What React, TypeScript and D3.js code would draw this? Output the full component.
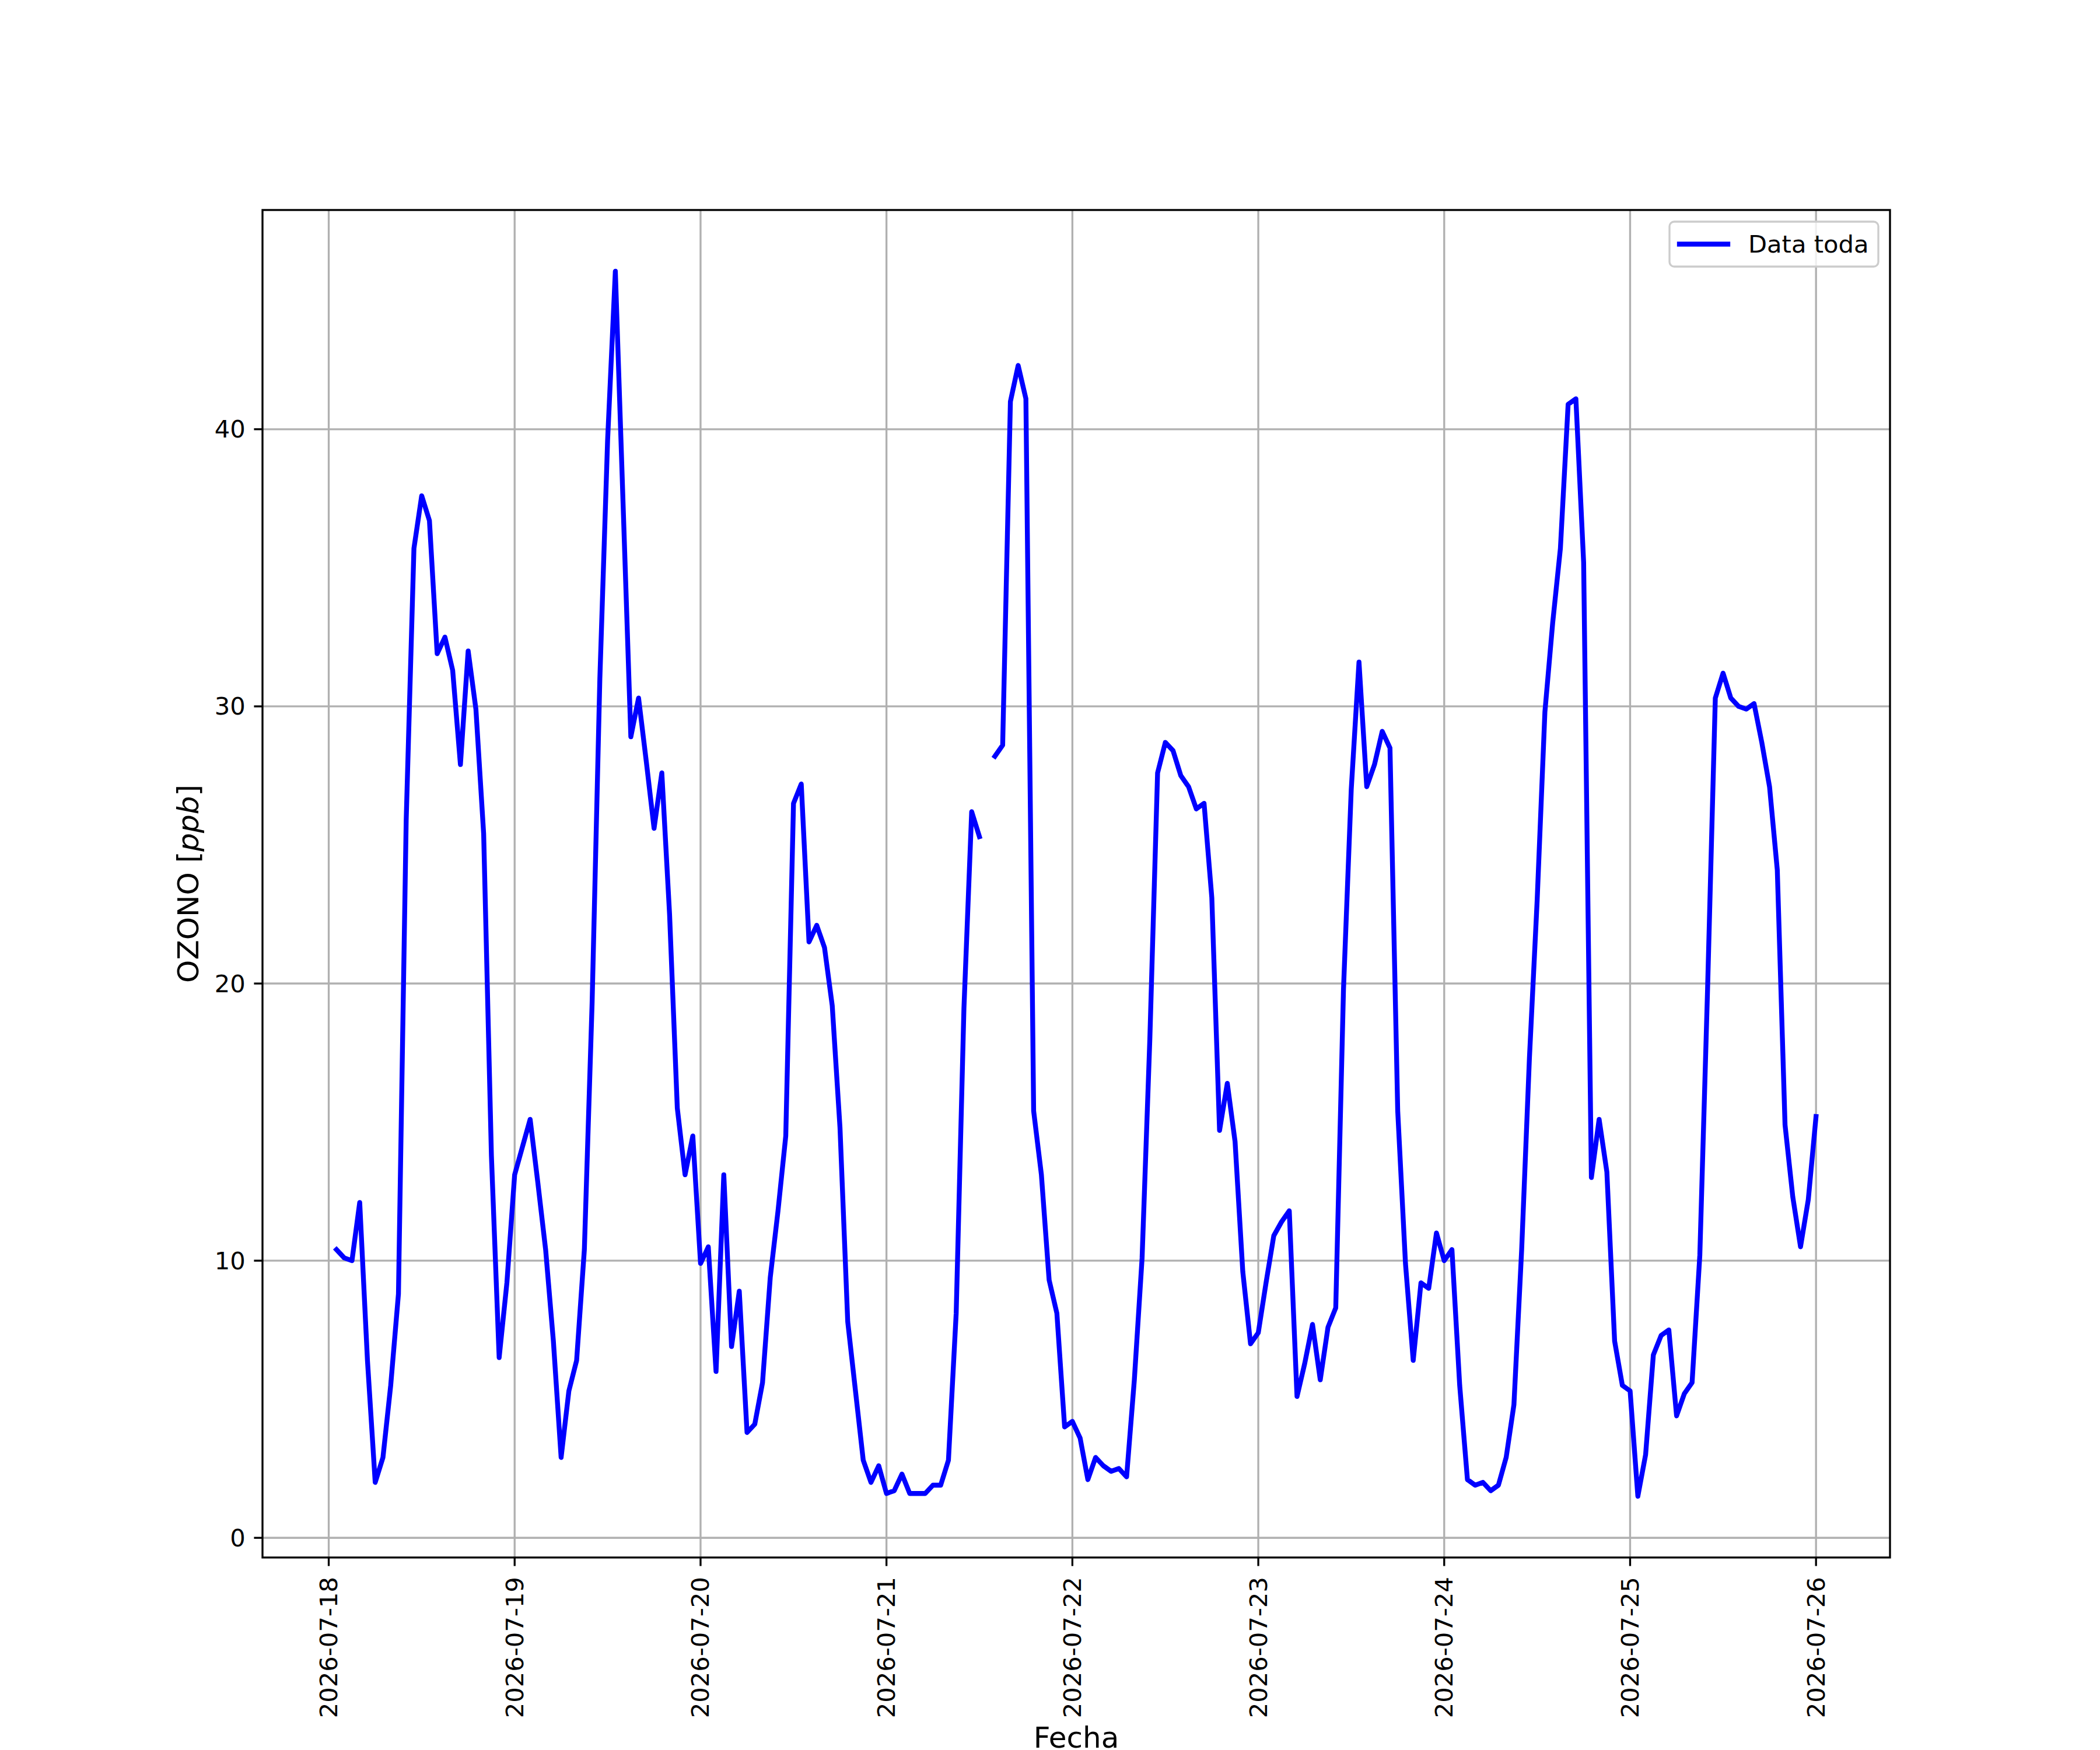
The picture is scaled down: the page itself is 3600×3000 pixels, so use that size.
import React from "react";
import * as d3 from "d3";

// Hourly ozone readings, first reading 2026-07-18 01:00 (UTC), last 2026-07-26 00:00
const START = "2026-07-18T01:00:00Z";
const day18 = [10.4, 10.1, 10.0, 12.1, 6.4, 2.0, 2.9, 5.5, 8.8, 25.9, 35.7, 37.6, 36.7, 31.9, 32.5, 31.3, 27.9, 32.0, 29.9, 25.4, 13.8, 6.5, 9.2, 13.1];
const day19 = [14.1, 15.1, 12.8, 10.4, 7.1, 2.9, 5.3, 6.4, 10.4, 19.3, 31.0, 39.6, 45.7, 37.3, 28.9, 30.3, 28.0, 25.6, 27.6, 22.5, 15.5, 13.1, 14.5, 9.9];
const day20 = [10.5, 6.0, 13.1, 6.9, 8.9, 3.8, 4.1, 5.6, 9.4, 11.8, 14.5, 26.5, 27.2, 21.5, 22.1, 21.3, 19.2, 14.8, 7.8, 5.3, 2.8, 2.0, 2.6, 1.6];
const day21: (number | null)[] = [1.7, 2.3, 1.6, 1.6, 1.6, 1.9, 1.9, 2.8, 8.1, 19.1, 26.2, 25.3, null, 28.2, 28.6, 41.0, 42.3, 41.1, 15.4, 13.1, 9.3, 8.1, 4.0, 4.2];
const day22 = [3.6, 2.1, 2.9, 2.6, 2.4, 2.5, 2.2, 5.7, 10.1, 18.0, 27.6, 28.7, 28.4, 27.5, 27.1, 26.3, 26.5, 23.1, 14.7, 16.4, 14.3, 9.6, 7.0, 7.4];
const day23 = [9.2, 10.9, 11.4, 11.8, 5.1, 6.3, 7.7, 5.7, 7.6, 8.3, 19.8, 27.0, 31.6, 27.1, 27.9, 29.1, 28.5, 15.4, 9.9, 6.4, 9.2, 9.0, 11.0, 10.0];
const day24 = [10.4, 5.5, 2.1, 1.9, 2.0, 1.7, 1.9, 2.9, 4.8, 10.4, 17.3, 23.0, 29.8, 33.0, 35.7, 40.9, 41.1, 35.2, 13.0, 15.1, 13.2, 7.1, 5.5, 5.3];
const day25 = [1.5, 3.0, 6.6, 7.3, 7.5, 4.4, 5.2, 5.6, 10.2, 19.8, 30.3, 31.2, 30.3, 30.0, 29.9, 30.1, 28.7, 27.1, 24.1, 14.9, 12.3, 10.5, 12.2, 15.2];

const yTicks = [0, 10, 20, 30, 40];
const SERIES_LABEL = "Data toda";
const X_LABEL = "Fecha";

type Pt = { t: Date; v: number | null };

const values: (number | null)[] = [...day18, ...day19, ...day20, ...day21, ...day22, ...day23, ...day24, ...day25];
const start = new Date(START);
const points: Pt[] = values.map((v, i) => ({ t: d3.utcHour.offset(start, i), v }));

const W = 3600;
const H = 3000;
const L = 450, R = 3240, T = 360, B = 2670;
const PT = 300 / 72;
const FONT = "DejaVu Sans, Liberation Sans, sans-serif";

export default function App() {
  const tExt = d3.extent(points, (d) => +d.t) as [number, number];
  const tPad = (tExt[1] - tExt[0]) * 0.05;
  const x = d3.scaleUtc().domain([new Date(tExt[0] - tPad), new Date(tExt[1] + tPad)]).range([L, R]);
  const valid = points.filter((d) => d.v !== null).map((d) => d.v as number);
  const vMin = d3.min(valid)!, vMax = d3.max(valid)!;
  const vPad = (vMax - vMin) * 0.05;
  const y = d3.scaleLinear().domain([vMin - vPad, vMax + vPad]).range([B, T]);

  const line = d3
    .line<Pt>()
    .defined((d) => d.v !== null)
    .x((d) => x(d.t))
    .y((d) => y(d.v as number));

  const xTicks = x.ticks(d3.utcDay.every(1)!).filter((d) => +d >= +x.domain()[0] && +d <= +x.domain()[1]);
  const fmt = d3.utcFormat("%Y-%m-%d");

  const gridW = 0.8 * PT;
  const spineW = 0.8 * PT;
  const tickLen = 3.5 * PT;
  const tickFs = 10 * PT;
  const labelFs = 12 * PT;
  const lineW = 2 * PT;

  // legend
  const lgX0 = 2862, lgX1 = 3220, lgY0 = 380, lgY1 = 457;
  const lgMid = (lgY0 + lgY1) / 2;

  return (
    <svg
      width={W}
      height={H}
      viewBox={`0 0 ${W} ${H}`}
      style={{ position: "absolute", left: 0, top: 0, background: "#fff" }}
      fontFamily={FONT}
    >
      <rect x={0} y={0} width={W} height={H} fill="#fff" />
      {/* grid */}
      <g stroke="#b0b0b0" strokeWidth={gridW}>
        {xTicks.map((d) => (
          <line key={"gx" + +d} x1={x(d)} x2={x(d)} y1={T} y2={B} />
        ))}
        {yTicks.map((v) => (
          <line key={"gy" + v} x1={L} x2={R} y1={y(v)} y2={y(v)} />
        ))}
      </g>
      {/* data line */}
      <defs>
        <clipPath id="plotclip">
          <rect x={L} y={T} width={R - L} height={B - T} />
        </clipPath>
      </defs>
      <path
        d={line(points) || ""}
        fill="none"
        stroke="#0000ff"
        strokeWidth={lineW}
        strokeLinejoin="round"
        strokeLinecap="square"
        clipPath="url(#plotclip)"
      />
      {/* spines */}
      <rect x={L} y={T} width={R - L} height={B - T} fill="none" stroke="#000" strokeWidth={spineW} />
      {/* x ticks */}
      <g>
        {xTicks.map((d) => (
          <g key={"xt" + +d}>
            <line x1={x(d)} x2={x(d)} y1={B} y2={B + tickLen} stroke="#000" strokeWidth={spineW} />
            <text
              transform={`translate(${x(d)},${B + tickLen + 3.5 * PT + 4}) rotate(-90)`}
              textAnchor="end"
              dominantBaseline="central"
              fontSize={tickFs}
              fill="#000"
            >
              {fmt(d)}
            </text>
          </g>
        ))}
      </g>
      {/* y ticks */}
      <g>
        {yTicks.map((v) => (
          <g key={"yt" + v}>
            <line x1={L - tickLen} x2={L} y1={y(v)} y2={y(v)} stroke="#000" strokeWidth={spineW} />
            <text
              x={L - tickLen - 3.5 * PT}
              y={y(v)}
              textAnchor="end"
              dominantBaseline="central"
              fontSize={tickFs}
              fill="#000"
            >
              {v}
            </text>
          </g>
        ))}
      </g>
      {/* axis labels */}
      <text x={(L + R) / 2} y={2996} textAnchor="middle" fontSize={labelFs} fill="#000">
        {X_LABEL}
      </text>
      <text
        transform={`translate(323,${(T + B) / 2}) rotate(-90)`}
        textAnchor="middle"
        dominantBaseline="central"
        fontSize={labelFs}
        fill="#000"
      >
        OZONO [<tspan fontStyle="italic">ppb</tspan>]
      </text>
      {/* legend */}
      <rect
        x={lgX0}
        y={lgY0}
        width={lgX1 - lgX0}
        height={lgY1 - lgY0}
        rx={8}
        ry={8}
        fill="#fff"
        fillOpacity={0.8}
        stroke="#cccccc"
        strokeWidth={spineW}
      />
      <line x1={2879} x2={2962} y1={lgMid} y2={lgMid} stroke="#0000ff" strokeWidth={lineW} strokeLinecap="square" />
      <text x={2997} y={lgMid} dominantBaseline="central" fontSize={tickFs} fill="#000">
        {SERIES_LABEL}
      </text>
    </svg>
  );
}
